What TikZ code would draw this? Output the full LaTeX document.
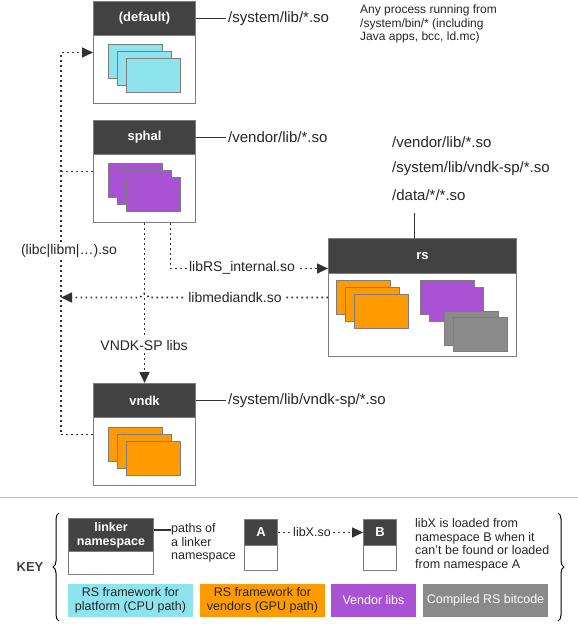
\documentclass[tikz,border=0pt]{standalone}
\usepackage{fontspec}
\setmainfont{Liberation Sans}
\usetikzlibrary{arrows.meta, positioning, calc, decorations.pathreplacing}
\definecolor{headcolor}{RGB}{66,66,66}
\definecolor{edgecolor}{RGB}{125,125,125}
\definecolor{linkcolor}{RGB}{50,50,50}
\definecolor{cpucolor}{RGB}{142,228,237}
\definecolor{gpucolor}{RGB}{255,155,0}
\definecolor{vendorcolor}{RGB}{170,82,212}
\definecolor{bitcodecolor}{RGB}{138,138,138}
\definecolor{sepcolor}{RGB}{190,190,190}

\begin{document}
\begin{tikzpicture}[
    x=1pt, y=-1pt,
    nsbox/.style={draw=edgecolor, fill=white, line width=1pt, minimum width=102pt, minimum height=102pt, inner sep=0pt, anchor=north west},
    nshead/.style={draw=edgecolor, fill=headcolor, line width=1pt, text=white, font=\fontsize{13}{15}\selectfont\bfseries, minimum width=102pt, minimum height=34pt, inner sep=0pt, anchor=north west, align=center},
    libbox/.style={draw=edgecolor, line width=1pt, minimum width=54pt, minimum height=34pt, inner sep=0pt, anchor=north west},
    pathline/.style={draw=linkcolor, line width=1.5pt},
    libline/.style={draw=linkcolor, line width=1.6pt, dash pattern=on 1.6pt off 3.4pt},
    libarrow/.style={libline, -{Triangle[length=11pt, width=10pt]}},
    pathtext/.style={font=\fontsize{15}{17}\selectfont, text=black!85, inner sep=2pt},
    libtext/.style={font=\fontsize{14}{16}\selectfont, text=black!85, inner sep=2pt, fill=white},
    keytext/.style={font=\fontsize{12.5}{13.5}\selectfont, text=black!85, align=left, inner sep=0pt},
    legend/.style={minimum height=33pt, inner sep=0pt, align=center, font=\fontsize{12.5}{14}\selectfont}
]
    \useasboundingbox (0,0) rectangle (578,624);

    % Namespaces
    \node[nsbox] (default) at (93,1) {};
    \node[nshead] (defaulthead) at (default.north west) {(default)};
    \foreach \i in {0,1,2}
        \node[libbox, fill=cpucolor] at ($(default.north west)+(15+9*\i,43+7*\i)$) {};

    \node[nsbox] (sphal) at (93,120) {};
    \node[nshead] (sphalhead) at (sphal.north west) {sphal};
    \foreach \i in {0,1,2}
        \node[libbox, fill=vendorcolor] at ($(sphal.north west)+(15+9*\i,43+7*\i)$) {};

    \node[nsbox] (vndk) at (93,383) {};
    \node[nshead] (vndkhead) at (vndk.north west) {vndk};
    \foreach \i in {0,1,2}
        \node[libbox, fill=gpucolor] at ($(vndk.north west)+(15+9*\i,44+7*\i)$) {};

    \node[nsbox, minimum width=188pt, minimum height=118pt] (rs) at (328,238) {};
    \node[nshead, minimum width=188pt, minimum height=35pt] (rshead) at (rs.north west) {rs};
    \foreach \i in {0,1,2}
        \node[libbox, fill=gpucolor] at ($(rs.north west)+(8+9*\i,42+7*\i)$) {};
    \foreach \i in {0,1}
        \node[libbox, fill=vendorcolor] at ($(rs.north west)+(92+9*\i,42+7*\i)$) {};
    \foreach \i in {0,1}
        \node[libbox, fill=bitcodecolor] at ($(rs.north west)+(116+9*\i,73+6*\i)$) {};

    % Search paths
    \node[pathtext, right=30pt of defaulthead] (defaultpath) {/system/lib/*.so};
    \node[pathtext, right=30pt of sphalhead] (sphalpath) {/vendor/lib/*.so};
    \node[pathtext, right=30pt of vndkhead] (vndkpath) {/system/lib/vndk-sp/*.so};
    \draw[pathline] (defaulthead.east) -- (defaultpath.west);
    \draw[pathline] (sphalhead.east) -- (sphalpath.west);
    \draw[pathline] (vndkhead.east) -- (vndkpath.west);
    \node[keytext, anchor=north west, font=\fontsize{12}{13.5}\selectfont] (anynote) at (360,5)
        {Any process running from\\/system/bin/* (including\\Java apps, bcc, ld.mc)};

    \node[pathtext, anchor=west] (rsvendor) at (390,142) {/vendor/lib/*.so};
    \node[pathtext, anchor=west] (rssystem) at (390,169) {/system/lib/vndk-sp/*.so};
    \node[pathtext, anchor=west] (rsdata) at (390,195) {/data/*/*.so};
    \coordinate (rstap) at ($(rs.north)+(-8,0)$);
    \coordinate (rstop) at ($(rs.north)+(-8,-25)$);
    \draw[pathline] (rstap) -- (rstop);

    % Linked libraries
    \coordinate (trunk) at (61,0);
    \draw[libarrow] (vndk.west) -- (vndk.west -| trunk) -- (default.west -| trunk) -- (default.west);
    \draw[libline] (sphal.west) -- (sphal.west -| trunk);
    \node[libtext] (libclabel) at (69,251) {(libc|libm|…).so};

    \draw[libarrow] (sphal.south) -- (vndk.north);
    \node[libtext] (vndksplabel) at (144,345) {VNDK-SP libs};

    \coordinate (rsdrop) at ($(sphal.south)+(26,0)$);
    \coordinate (rsin) at ($(rs.west)+(0,-29)$);
    \draw[libarrow] (rsdrop) |- (rsin);
    \node[libtext] (internallabel) at (242,268) {libRS\_internal.so};

    \coordinate (hop) at (sphal.south |- rs.west);
    \draw[libarrow] (rs.west) -- ($(hop)+(4,0)$) arc[start angle=0, end angle=-180, radius=4] -- (rs.west -| trunk);
    \node[libtext] (mediandklabel) at (235,297) {libmediandk.so};

    % Key
    \draw[sepcolor, line width=1pt] (0,497) -- (578,497);
    \node[font=\fontsize{13}{15}\selectfont\bfseries, text=headcolor] (keylabel) at (30,567) {KEY};
    \draw[line width=1pt, decorate, decoration={brace, amplitude=6pt}] (59,621) -- (59,513);
    \draw[line width=1pt, decorate, decoration={brace, amplitude=6pt}] (558,513) -- (558,621);

    \node[nsbox, minimum width=85pt, minimum height=56pt] (keyns) at (68,518) {};
    \node[nshead, minimum width=85pt, minimum height=33pt, font=\fontsize{12.5}{14}\selectfont\bfseries] (keynshead) at (keyns.north west) {linker\\namespace};
    \node[keytext, anchor=west] (keypaths) at (171,543) {paths of\\a linker\\namespace};
    \draw[pathline] ([yshift=5pt]keynshead.east) -- ([yshift=5pt]keynshead.east -| keypaths.west);

    \node[nsbox, minimum width=33pt, minimum height=51pt] (keya) at (244,519) {};
    \node[nshead, minimum width=33pt, minimum height=26pt] (keyahead) at (keya.north west) {A};
    \node[nsbox, minimum width=33pt, minimum height=51pt] (keyb) at (363,519) {};
    \node[nshead, minimum width=33pt, minimum height=26pt] (keybhead) at (keyb.north west) {B};
    \draw[libarrow] (keyahead.east) -- (keybhead.west);
    \node[libtext, font=\fontsize{12.5}{14}\selectfont] (libxlabel) at (312,532) {libX.so};
    \node[keytext, anchor=west] (keydesc) at (415,545)
        {libX is loaded from\\namespace B when it\\can’t be found or loaded\\from namespace A};

    \node[legend, fill=cpucolor, minimum width=125pt, text=black!85] (cpukey) at (130.5,600.5) {RS framework for\\platform (CPU path)};
    \node[legend, fill=gpucolor, minimum width=125pt, text=black!85] (gpukey) at (262.5,600.5) {RS framework for\\vendors (GPU path)};
    \node[legend, fill=vendorcolor, minimum width=85pt, text=white] (vendorkey) at (373.5,600.5) {Vendor libs};
    \node[legend, fill=bitcodecolor, minimum width=125pt, text=white] (bitcodekey) at (485.5,600.5) {Compiled RS bitcode};
\end{tikzpicture}
\end{document}
